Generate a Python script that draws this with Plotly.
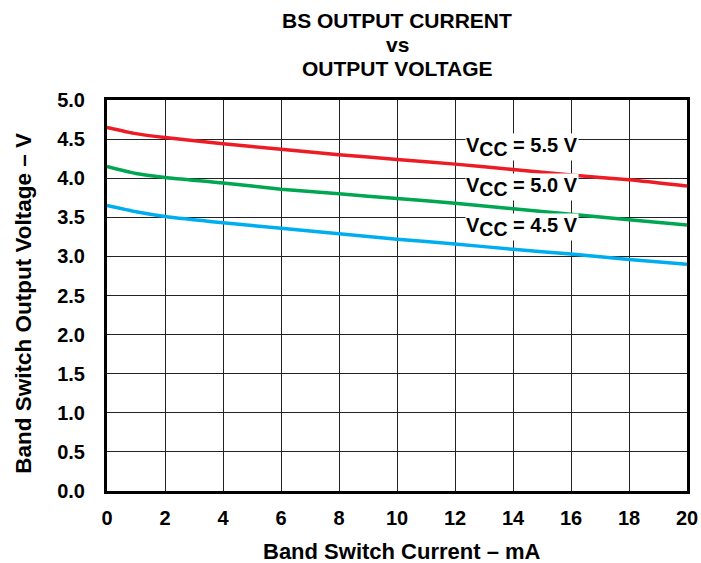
import plotly.graph_objects as go

current_ma = [0, 1, 2, 4, 6, 8, 10, 12, 14, 16, 18, 20]
vout_55 = [4.65, 4.57, 4.52, 4.44, 4.37, 4.30, 4.24, 4.18, 4.11, 4.04, 3.98, 3.90]
vout_50 = [4.15, 4.06, 4.01, 3.94, 3.86, 3.80, 3.74, 3.68, 3.61, 3.54, 3.47, 3.40]
vout_45 = [3.65, 3.57, 3.51, 3.43, 3.36, 3.29, 3.22, 3.16, 3.09, 3.03, 2.96, 2.90]

series_labels = ["5.5 V", "5.0 V", "4.5 V"]
label_pos = [(12.35, 4.40), (12.35, 3.89), (12.35, 3.38)]
colors = ["#ED1C24", "#00A651", "#00AEEF"]

x_ticks = list(range(0, 21, 2))
y_ticks = [i * 0.5 for i in range(11)]
title_lines = ["BS OUTPUT CURRENT", "vs", "OUTPUT VOLTAGE"]

FONT = "Liberation Sans, Arial, sans-serif"

fig = go.Figure()
for ys, c in zip([vout_55, vout_50, vout_45], colors):
    fig.add_trace(go.Scatter(x=current_ma, y=ys, mode="lines",
                             line=dict(color=c, width=3.5, shape="spline", smoothing=0.6),
                             showlegend=False, hoverinfo="skip"))

for txt, (ax, ay) in zip(series_labels, label_pos):
    fig.add_annotation(x=ax, y=ay,
                       text="<b>V<sub><span style='font-size:19.5px'>CC</span></sub> = " + txt + "</b>",
                       showarrow=False, xanchor="left", yanchor="middle", bgcolor="white",
                       borderpad=0, font=dict(family=FONT, size=20, color="black"))

# title lines
for line, py in zip(title_lines, [1.2046, 1.1407, 1.0793]):
    fig.add_annotation(x=0.5, y=py, xref="paper", yref="paper", showarrow=False,
                       text="<b>" + line + "</b>", xanchor="center", yanchor="middle",
                       font=dict(family=FONT, size=21, color="black"))

fig.add_annotation(x=0.509, y=-0.156, xref="paper", yref="paper", showarrow=False,
                   text="<b>Band Switch Current – mA</b>", xanchor="center", yanchor="middle",
                   font=dict(family=FONT, size=22, color="black"))
fig.add_annotation(x=-0.144, y=0.48, xref="paper", yref="paper", showarrow=False,
                   text="<b>Band Switch Output Voltage – V</b>", textangle=-90,
                   xanchor="center", yanchor="middle",
                   font=dict(family=FONT, size=22.5, color="black"))

fig.update_layout(
    width=701, height=563,
    margin=dict(l=107, r=14, t=100, b=72, autoexpand=False),
    paper_bgcolor="white", plot_bgcolor="white",
    font=dict(family=FONT, color="black"),
)
fig.update_xaxes(range=[0, 20], tickvals=x_ticks, ticktext=["<b>%d</b>" % v for v in x_ticks],
                 showgrid=True, gridcolor="#222222", gridwidth=1.3,
                 showline=True, linecolor="black", linewidth=3, mirror=True,
                 ticks="outside", ticklen=7, tickcolor="rgba(0,0,0,0)", zeroline=False,
                 automargin=False,
                 tickfont=dict(family=FONT, size=20, color="black"))
fig.update_yaxes(range=[0, 5], tickvals=y_ticks, ticktext=["<b>%.1f</b>" % v for v in y_ticks],
                 showgrid=True, gridcolor="#222222", gridwidth=1.3,
                 showline=True, linecolor="black", linewidth=3, mirror=True,
                 ticks="outside", ticklen=15, tickcolor="rgba(0,0,0,0)", zeroline=False,
                 automargin=False,
                 tickfont=dict(family=FONT, size=20, color="black"))

# remove the browser's default 8px body margin so the figure fills the window exactly
fig.write_html("out.html", config={"displayModeBar": False},
               post_script="document.body.style.margin='0';document.body.style.overflow='hidden';")
